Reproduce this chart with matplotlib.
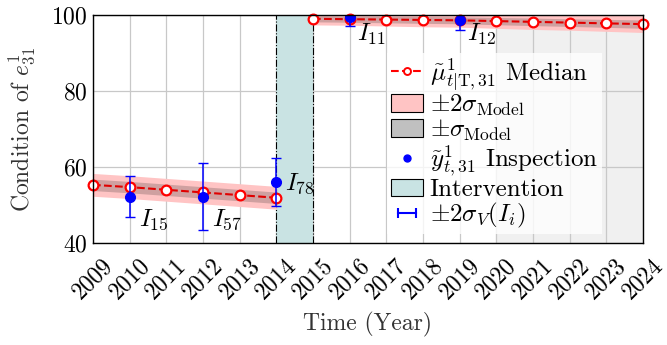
import numpy as np
import matplotlib
matplotlib.use('Agg')
import matplotlib.pyplot as plt
from matplotlib.lines import Line2D
from matplotlib.patches import Patch
from matplotlib.legend_handler import HandlerLine2D

plt.rcParams['font.family'] = 'serif'
plt.rcParams['font.serif'] = ['cmr10']
plt.rcParams['mathtext.fontset'] = 'cm'
plt.rcParams['axes.unicode_minus'] = False
plt.rcParams['axes.formatter.use_mathtext'] = True

# model median, before and after the intervention
years_pre = [2009, 2010, 2011, 2012, 2013, 2014]
mu_pre = [55.3, 54.7, 54.0, 53.3, 52.6, 51.9]
sig_pre = [1.5, 1.5, 1.5, 1.5, 1.5, 1.5]
years_post = [2015, 2016, 2017, 2018, 2019, 2020, 2021, 2022, 2023, 2024]
mu_post = [99.0, 98.9, 98.8, 98.7, 98.6, 98.4, 98.2, 98.0, 97.8, 97.6]
sig_post = [0.8, 0.8, 0.85, 0.9, 0.9, 0.95, 1.0, 1.0, 1.05, 1.1]

# inspections
insp_years = [2010, 2012, 2014, 2016, 2019]
insp_vals = [52.2, 52.2, 56.0, 99.5, 98.7]
insp_err = [5.4, 8.8, 6.3, 2.4, 2.7]
insp_labels = [r'$I_{15}$', r'$I_{57}$', r'$I_{78}$', r'$I_{11}$', r'$I_{12}$']
label_pos = [(2010.25, 46), (2012.25, 46), (2014.25, 55.5), (2016.2, 94.8), (2019.2, 94.8)]

interv = (2014, 2015)
forecast = (2020, 2024)
xticks = list(range(2009, 2025))

fig = plt.figure(figsize=(6.67, 3.45), dpi=100)
ax = fig.add_axes([0.1394, 0.2957, 0.8246, 0.6608])

ax.axvspan(forecast[0], forecast[1], color='#f0f0f0', zorder=0)
ax.grid(True, color='#c8c8c8', linewidth=0.9, zorder=1)
ax.set_axisbelow(True)
ax.axvspan(interv[0], interv[1], facecolor='#c9e3e3', edgecolor='none', zorder=2)
for xv in interv:
    ax.axvline(xv, color='black', linestyle='-.', linewidth=0.8, zorder=3)

for yrs, mu, sg in [(years_pre, mu_pre, sig_pre), (years_post, mu_post, sig_post)]:
    yrs = np.array(yrs); mu = np.array(mu); sg = np.array(sg)
    ax.fill_between(yrs, mu - 2 * sg, mu + 2 * sg, color='#ffc4c4', lw=0, zorder=3)
    ax.fill_between(yrs, mu - sg, mu + sg, color='#b08888', alpha=0.6, lw=0, zorder=3)
    ax.plot(yrs, mu, color='#e00000', linestyle='--', linewidth=1.5, marker='o',
            markersize=7, markerfacecolor='white', markeredgecolor='red',
            markeredgewidth=1.6, zorder=5, clip_on=False)

ax.errorbar(insp_years, insp_vals, yerr=insp_err, fmt='o', color='blue',
            markersize=7, ecolor='blue', elinewidth=1.1, capsize=3.5, zorder=6)
for lab, (tx, ty) in zip(insp_labels, label_pos):
    ax.text(tx, ty, lab, fontsize=18, va='center', ha='left', zorder=7)

ax.set_xlim(2009, 2024)
ax.set_ylim(40, 100)
ax.set_yticks([40, 60, 80, 100])
ax.set_xticks(xticks)
ax.set_xticklabels([str(y) for y in xticks], rotation=45, fontsize=17)
ax.tick_params(axis='y', labelsize=17, pad=4)
ax.tick_params(axis='x', pad=8)
ax.tick_params(length=0)
for s in ax.spines.values():
    s.set_linewidth(1.0)
    s.set_zorder(8)
ax.set_xlabel('Time (Year)', fontsize=17, color='#333333', labelpad=6)
ax.set_ylabel(r'Condition of $e^1_{31}$', fontsize=17, color='#333333', labelpad=10)

h_med = Line2D([], [], color='red', linestyle='--', marker='o', markersize=5,
               markerfacecolor='white', markeredgewidth=1.4)
h_2s = Patch(facecolor='#ffc4c4', edgecolor='black', linewidth=0.8)
h_1s = Patch(facecolor='#c0c0c0', edgecolor='black', linewidth=0.8)
h_insp = Line2D([], [], color='blue', linestyle='none', marker='o', markersize=5)
h_int = Patch(facecolor='#c9e3e3', edgecolor='black', linewidth=0.8)
h_err = Line2D([], [], color='blue', linewidth=1.5, marker='|', markersize=7,
               markeredgewidth=1.5)
leg = ax.legend([h_med, h_2s, h_1s, h_insp, h_int, h_err],
                [r'$\tilde{\mu}^1_{t|\mathrm{T},31}$ Median', r'$\pm2\sigma_{\mathrm{Model}}$',
                 r'$\pm\sigma_{\mathrm{Model}}$', r'$\tilde{y}^1_{t,31}$ Inspection',
                 'Intervention', r'$\pm2\sigma_V(I_i)$'],
                loc='upper left', bbox_to_anchor=(0.535, 0.835), fontsize=18,
                frameon=True, framealpha=0.8, edgecolor='none', facecolor='white',
                handlelength=1.3, handletextpad=0.25, labelspacing=0.0,
                borderpad=0.15, borderaxespad=0, numpoints=1, fancybox=False,
                handler_map={h_err: HandlerLine2D(numpoints=2)})
leg.set_zorder(9)

fig.savefig('out.png', dpi=100)
